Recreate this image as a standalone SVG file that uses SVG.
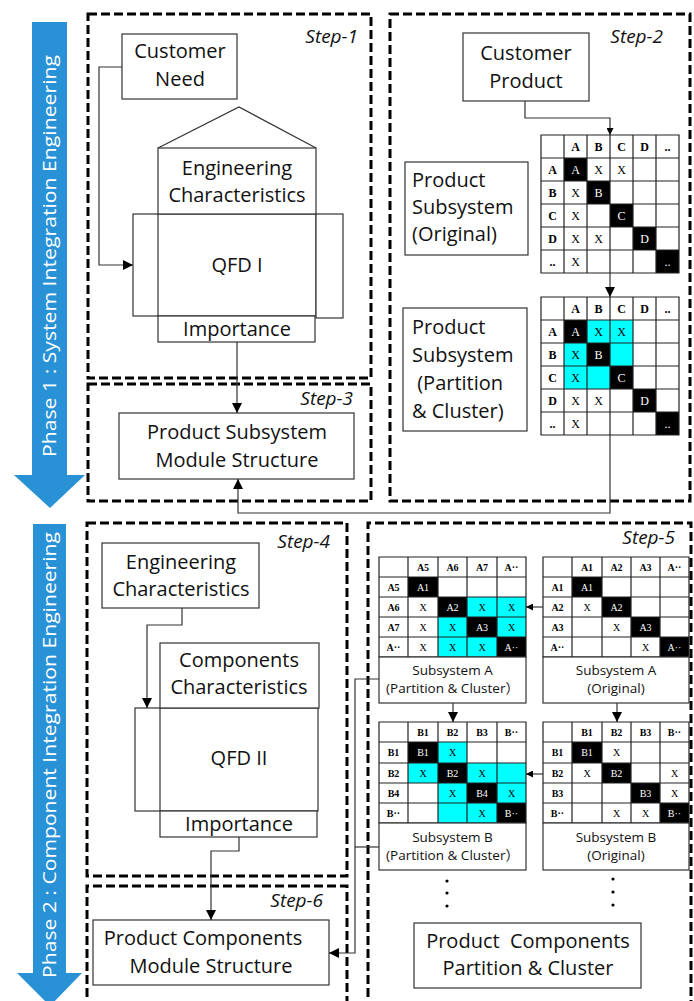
<svg xmlns="http://www.w3.org/2000/svg" width="694" height="1001" viewBox="0 0 694 1001">
<defs>
<marker id="ah" viewBox="0 0 10 10" refX="10" refY="5" markerWidth="10" markerHeight="10" markerUnits="userSpaceOnUse" orient="auto"><path d="M0,0 L10,5 L0,10 Z" fill="#000"/></marker>
<marker id="ahs" viewBox="0 0 10 10" refX="10" refY="5" markerWidth="7" markerHeight="7" markerUnits="userSpaceOnUse" orient="auto"><path d="M0,0 L10,5 L0,10 Z" fill="#000"/></marker>
<style>
.dash{fill:none;stroke:#000;stroke-width:3;stroke-dasharray:9 4}
.box{fill:#fff;stroke:#333;stroke-width:1.2}
.ln{fill:none;stroke:#333;stroke-width:1.2}
.t{font-family:"Open Sans","Noto Sans",sans-serif;font-size:20px;fill:#111;text-anchor:middle}
.tl{font-family:"Open Sans","Noto Sans",sans-serif;font-size:20px;fill:#111}
.st{font-family:"Open Sans","Noto Sans",sans-serif;font-size:19px;font-style:italic;fill:#111;text-anchor:end}
.ph{font-family:"Open Sans","Noto Sans",sans-serif;font-size:19px;fill:#fff;text-anchor:middle}
.sm{font-family:"Open Sans","Noto Sans","Noto Sans CJK SC",sans-serif;font-size:13.5px;fill:#111;text-anchor:middle}
.mh{font-family:"Liberation Serif",serif;font-size:12px;font-weight:bold;fill:#000;text-anchor:middle}
.mx{font-family:"Liberation Serif",serif;font-size:12px;fill:#000;text-anchor:middle}
.mw{font-family:"Liberation Serif",serif;font-size:12px;fill:#fff;text-anchor:middle}
.nh{font-family:"Liberation Serif",serif;font-size:10px;font-weight:bold;fill:#000;text-anchor:middle}
.nx{font-family:"Liberation Serif",serif;font-size:10px;fill:#000;text-anchor:middle}
.nw{font-family:"Liberation Serif",serif;font-size:10px;fill:#fff;text-anchor:middle}
.blk{fill:#000}
.cy{fill:#00FFFF}
.grid{fill:none;stroke:#222;stroke-width:1.2}
.blue{fill:#2991D6}
.con{fill:none;stroke:#333;stroke-width:1.2}
.dot{fill:#000}
</style>
</defs>
<rect width="694" height="1001" fill="#fff"/>

<g id="phase1">
<rect class="blue" x="32" y="22" width="35" height="454"/>
<polygon class="blue" points="14,475 85,475 50,508"/>
<text class="ph" transform="translate(56,256) rotate(-90)" textLength="402" lengthAdjust="spacingAndGlyphs">Phase 1 : System Integration  Engineering</text>
</g>
<g id="phase2">
<rect class="blue" x="33" y="524" width="33" height="450"/>
<polygon class="blue" points="17,973 82,973 50,1006"/>
<text class="ph" transform="translate(56,755) rotate(-90)" textLength="446" lengthAdjust="spacingAndGlyphs">Phase 2 : Component  Integration  Engineering</text>
</g>

<g id="step1">
<rect class="dash" x="88" y="14" width="283" height="364"/>
<text class="st" x="358" y="43">Step-1</text>
</g>
<g id="step3">
<rect class="dash" x="88" y="384" width="283" height="117"/>
<text class="st" x="353" y="405">Step-3</text>
</g>
<g id="step2">
<rect class="dash" x="390" y="14" width="300" height="487"/>
<text class="st" x="663" y="43">Step-2</text>
</g>
<g id="step4">
<rect class="dash" x="87" y="523" width="260" height="353"/>
<text class="st" x="330" y="548">Step-4</text>
</g>
<g id="step6">
<path class="dash" d="M87,1010 V886 H347 V1010"/>
<text class="st" x="323" y="907">Step-6</text>
</g>
<g id="step5">
<path class="dash" d="M368,1010 V523 H691 V1010"/>
<text class="st" x="675" y="544">Step-5</text>
</g>

<g id="customer-need">
<rect class="box" x="122" y="34" width="115" height="65"/>
<text class="t" x="180" y="58">Customer</text>
<text class="t" x="180" y="86">Need</text>
</g>

<g id="qfd1">
<path class="ln" d="M158,148 L239,107 L316,148"/>
<rect class="box" x="133" y="214" width="183" height="102"/>
<rect class="box" x="316" y="214" width="27" height="104"/>
<rect class="box" x="158" y="148" width="158" height="66"/>
<rect class="box" x="158" y="316" width="157" height="26"/>
<path class="ln" d="M158,214 V316"/>
<text class="t" x="237" y="175">Engineering</text>
<text class="t" x="237" y="202">Characteristics</text>
<text class="t" x="237" y="272">QFD I</text>
<text class="t" x="237" y="336">Importance</text>
</g>

<g id="product-subsystem-module">
<rect class="box" x="119" y="413" width="235" height="66"/>
<text class="t" x="237" y="439">Product Subsystem</text>
<text class="t" x="237" y="467">Module Structure</text>
</g>

<g id="customer-product">
<rect class="box" x="463" y="33" width="126" height="68"/>
<text class="t" x="526" y="60">Customer</text>
<text class="t" x="526" y="88">Product</text>
</g>

<g id="ps-original">
<rect class="box" x="405" y="162" width="123" height="93"/>
<text class="tl" x="412" y="187">Product</text>
<text class="tl" x="412" y="214">Subsystem</text>
<text class="tl" x="412" y="241">(Original)</text>
</g>

<g id="ps-partition">
<rect class="box" x="403" y="308" width="124" height="123"/>
<text class="tl" x="412" y="334">Product</text>
<text class="tl" x="412" y="362">Subsystem</text>
<text class="tl" x="412" y="390" style="white-space:pre"> (Partition</text>
<text class="tl" x="412" y="418">&amp; Cluster)</text>
</g>

<g id="matrix-original">
<rect x="541" y="135" width="138" height="138" fill="#fff"/>
<rect class="blk" x="564" y="158" width="23" height="23"/>
<rect class="blk" x="587" y="181" width="23" height="23"/>
<rect class="blk" x="610" y="204" width="23" height="23"/>
<rect class="blk" x="633" y="227" width="23" height="23"/>
<rect class="blk" x="656" y="250" width="23" height="23"/>
<path class="grid" d="M541,135 H679 V273 H541 Z M564,135 V273 M587,135 V273 M610,135 V273 M633,135 V273 M656,135 V273 M541,158 H679 M541,181 H679 M541,204 H679 M541,227 H679 M541,250 H679"/>
<text class="mh" x="575.5" y="150.5">A</text><text class="mh" x="598.5" y="150.5">B</text><text class="mh" x="621.5" y="150.5">C</text><text class="mh" x="644.5" y="150.5">D</text><text class="mh" x="667.5" y="150.5">..</text>
<text class="mh" x="552.5" y="173.5">A</text><text class="mh" x="552.5" y="196.5">B</text><text class="mh" x="552.5" y="219.5">C</text><text class="mh" x="552.5" y="242.5">D</text><text class="mh" x="552.5" y="265.5">..</text>
<text class="mw" x="575.5" y="173.5">A</text><text class="mx" x="598.5" y="173.5">X</text><text class="mx" x="621.5" y="173.5">X</text>
<text class="mx" x="575.5" y="196.5">X</text><text class="mw" x="598.5" y="196.5">B</text>
<text class="mx" x="575.5" y="219.5">X</text><text class="mw" x="621.5" y="219.5">C</text>
<text class="mx" x="575.5" y="242.5">X</text><text class="mx" x="598.5" y="242.5">X</text><text class="mw" x="644.5" y="242.5">D</text>
<text class="mx" x="575.5" y="265.5">X</text><text class="mw" x="667.5" y="265.5">..</text>
</g>

<g id="matrix-partition">
<rect x="541" y="297" width="138" height="138" fill="#fff"/>
<rect class="cy" x="587" y="320" width="46" height="23"/>
<rect class="cy" x="564" y="343" width="23" height="46"/>
<rect class="cy" x="610" y="343" width="23" height="23"/>
<rect class="cy" x="587" y="366" width="23" height="23"/>
<rect class="blk" x="564" y="320" width="23" height="23"/>
<rect class="blk" x="587" y="343" width="23" height="23"/>
<rect class="blk" x="610" y="366" width="23" height="23"/>
<rect class="blk" x="633" y="389" width="23" height="23"/>
<rect class="blk" x="656" y="412" width="23" height="23"/>
<path class="grid" d="M541,297 H679 V435 H541 Z M564,297 V435 M587,297 V435 M610,297 V435 M633,297 V435 M656,297 V435 M541,320 H679 M541,343 H679 M541,366 H679 M541,389 H679 M541,412 H679"/>
<text class="mh" x="575.5" y="312.5">A</text><text class="mh" x="598.5" y="312.5">B</text><text class="mh" x="621.5" y="312.5">C</text><text class="mh" x="644.5" y="312.5">D</text><text class="mh" x="667.5" y="312.5">..</text>
<text class="mh" x="552.5" y="335.5">A</text><text class="mh" x="552.5" y="358.5">B</text><text class="mh" x="552.5" y="381.5">C</text><text class="mh" x="552.5" y="404.5">D</text><text class="mh" x="552.5" y="427.5">..</text>
<text class="mw" x="575.5" y="335.5">A</text><text class="mx" x="598.5" y="335.5">X</text><text class="mx" x="621.5" y="335.5">X</text>
<text class="mx" x="575.5" y="358.5">X</text><text class="mw" x="598.5" y="358.5">B</text>
<text class="mx" x="575.5" y="381.5">X</text><text class="mw" x="621.5" y="381.5">C</text>
<text class="mx" x="575.5" y="404.5">X</text><text class="mx" x="598.5" y="404.5">X</text><text class="mw" x="644.5" y="404.5">D</text>
<text class="mx" x="575.5" y="427.5">X</text><text class="mw" x="667.5" y="427.5">..</text>
</g>

<g id="eng-char-2">
<rect class="box" x="102" y="543" width="157" height="65"/>
<text class="t" x="181" y="569">Engineering</text>
<text class="t" x="181" y="596">Characteristics</text>
</g>

<g id="qfd2">
<rect class="box" x="135" y="708" width="183" height="103"/>
<rect class="box" x="160" y="643" width="159" height="65"/>
<rect class="box" x="160" y="811" width="157" height="26"/>
<path class="ln" d="M160,708 V811"/>
<text class="t" x="239" y="667">Components</text>
<text class="t" x="239" y="694">Characteristics</text>
<text class="t" x="239" y="765">QFD II</text>
<text class="t" x="239" y="831">Importance</text>
</g>

<g id="product-components-module">
<rect class="box" x="93" y="920" width="236" height="65"/>
<text class="t" x="203" y="945">Product Components</text>
<text class="t" x="211" y="973">Module Structure</text>
</g>

<g id="subsystem-a-partition">
<rect x="379" y="557" width="147" height="100" fill="#fff"/>
<rect class="cy" x="467" y="597" width="59" height="20"/>
<rect class="cy" x="438" y="617" width="29" height="40"/>
<rect class="cy" x="497" y="617" width="29" height="20"/>
<rect class="cy" x="467" y="637" width="30" height="20"/>
<rect class="blk" x="408" y="577" width="30" height="20"/>
<rect class="blk" x="438" y="597" width="29" height="20"/>
<rect class="blk" x="467" y="617" width="30" height="20"/>
<rect class="blk" x="497" y="637" width="29" height="20"/>
<path class="grid" d="M379,557 H526 V657 H379 Z M408,557 V657 M438,557 V657 M467,557 V657 M497,557 V657 M379,577 H526 M379,597 H526 M379,617 H526 M379,637 H526"/>
<rect class="box" x="379" y="657" width="147" height="46"/>
<text class="nh" x="423" y="570.5">A5</text><text class="nh" x="452.5" y="570.5">A6</text><text class="nh" x="482" y="570.5">A7</text><text class="nh" x="511.5" y="570.5">A··</text>
<text class="nh" x="393.5" y="590.5">A5</text><text class="nh" x="393.5" y="610.5">A6</text><text class="nh" x="393.5" y="630.5">A7</text><text class="nh" x="393.5" y="650.5">A··</text>
<text class="nw" x="423" y="590.5">A1</text>
<text class="nx" x="423" y="610.5">X</text><text class="nw" x="452.5" y="610.5">A2</text><text class="nx" x="482" y="610.5">X</text><text class="nx" x="511.5" y="610.5">X</text>
<text class="nx" x="423" y="630.5">X</text><text class="nx" x="452.5" y="630.5">X</text><text class="nw" x="482" y="630.5">A3</text><text class="nx" x="511.5" y="630.5">X</text>
<text class="nx" x="423" y="650.5">X</text><text class="nx" x="452.5" y="650.5">X</text><text class="nx" x="482" y="650.5">X</text><text class="nw" x="511.5" y="650.5">A··</text>
<text class="sm" x="452.5" y="675">Subsystem A</text>
<text class="sm" x="452.5" y="693">(Partition &amp; Cluster）</text>
</g>

<g id="subsystem-a-original">
<rect x="543" y="557" width="146" height="100" fill="#fff"/>
<rect class="blk" x="572" y="577" width="30" height="20"/>
<rect class="blk" x="602" y="597" width="29" height="20"/>
<rect class="blk" x="631" y="617" width="29" height="20"/>
<rect class="blk" x="660" y="637" width="29" height="20"/>
<path class="grid" d="M543,557 H689 V657 H543 Z M572,557 V657 M602,557 V657 M631,557 V657 M660,557 V657 M543,577 H689 M543,597 H689 M543,617 H689 M543,637 H689"/>
<rect class="box" x="543" y="657" width="146" height="46"/>
<text class="nh" x="587" y="570.5">A1</text><text class="nh" x="616.5" y="570.5">A2</text><text class="nh" x="645.5" y="570.5">A3</text><text class="nh" x="674.5" y="570.5">A··</text>
<text class="nh" x="557.5" y="590.5">A1</text><text class="nh" x="557.5" y="610.5">A2</text><text class="nh" x="557.5" y="630.5">A3</text><text class="nh" x="557.5" y="650.5">A··</text>
<text class="nw" x="587" y="590.5">A1</text>
<text class="nx" x="587" y="610.5">X</text><text class="nw" x="616.5" y="610.5">A2</text>
<text class="nx" x="616.5" y="630.5">X</text><text class="nw" x="645.5" y="630.5">A3</text>
<text class="nx" x="645.5" y="650.5">X</text><text class="nw" x="674.5" y="650.5">A··</text>
<text class="sm" x="616" y="675">Subsystem A</text>
<text class="sm" x="616" y="693">(Original)</text>
</g>

<g id="subsystem-b-partition">
<rect x="379" y="722" width="147" height="101" fill="#fff"/>
<rect class="cy" x="438" y="742" width="29" height="21"/>
<rect class="cy" x="408" y="763" width="30" height="20"/>
<rect class="cy" x="467" y="763" width="59" height="20"/>
<rect class="cy" x="438" y="783" width="29" height="40"/>
<rect class="cy" x="497" y="783" width="29" height="20"/>
<rect class="cy" x="467" y="803" width="30" height="20"/>
<rect class="blk" x="408" y="742" width="30" height="21"/>
<rect class="blk" x="438" y="763" width="29" height="20"/>
<rect class="blk" x="467" y="783" width="30" height="20"/>
<rect class="blk" x="497" y="803" width="29" height="20"/>
<path class="grid" d="M379,722 H526 V823 H379 Z M408,722 V823 M438,722 V823 M467,722 V823 M497,722 V823 M379,742 H526 M379,763 H526 M379,783 H526 M379,803 H526"/>
<rect class="box" x="379" y="823" width="147" height="47"/>
<text class="nh" x="423" y="735.5">B1</text><text class="nh" x="452.5" y="735.5">B2</text><text class="nh" x="482" y="735.5">B3</text><text class="nh" x="511.5" y="735.5">B··</text>
<text class="nh" x="393.5" y="756">B1</text><text class="nh" x="393.5" y="776.5">B2</text><text class="nh" x="393.5" y="796.5">B4</text><text class="nh" x="393.5" y="816.5">B··</text>
<text class="nw" x="423" y="756">B1</text><text class="nx" x="452.5" y="756">X</text>
<text class="nx" x="423" y="776.5">X</text><text class="nw" x="452.5" y="776.5">B2</text><text class="nx" x="482" y="776.5">X</text>
<text class="nx" x="452.5" y="796.5">X</text><text class="nw" x="482" y="796.5">B4</text><text class="nx" x="511.5" y="796.5">X</text>
<text class="nx" x="482" y="816.5">X</text><text class="nw" x="511.5" y="816.5">B··</text>
<text class="sm" x="452.5" y="842">Subsystem B</text>
<text class="sm" x="452.5" y="860">(Partition &amp; Cluster）</text>
</g>

<g id="subsystem-b-original">
<rect x="543" y="722" width="146" height="101" fill="#fff"/>
<rect class="blk" x="572" y="742" width="30" height="21"/>
<rect class="blk" x="602" y="763" width="29" height="20"/>
<rect class="blk" x="631" y="783" width="29" height="20"/>
<rect class="blk" x="660" y="803" width="29" height="20"/>
<path class="grid" d="M543,722 H689 V823 H543 Z M572,722 V823 M602,722 V823 M631,722 V823 M660,722 V823 M543,742 H689 M543,763 H689 M543,783 H689 M543,803 H689"/>
<rect class="box" x="543" y="823" width="146" height="47"/>
<text class="nh" x="587" y="735.5">B1</text><text class="nh" x="616.5" y="735.5">B2</text><text class="nh" x="645.5" y="735.5">B3</text><text class="nh" x="674.5" y="735.5">B··</text>
<text class="nh" x="557.5" y="756">B1</text><text class="nh" x="557.5" y="776.5">B2</text><text class="nh" x="557.5" y="796.5">B3</text><text class="nh" x="557.5" y="816.5">B··</text>
<text class="nw" x="587" y="756">B1</text><text class="nx" x="616.5" y="756">X</text>
<text class="nx" x="587" y="776.5">X</text><text class="nw" x="616.5" y="776.5">B2</text><text class="nx" x="674.5" y="776.5">X</text>
<text class="nw" x="645.5" y="796.5">B3</text><text class="nx" x="674.5" y="796.5">X</text>
<text class="nx" x="616.5" y="816.5">X</text><text class="nx" x="645.5" y="816.5">X</text><text class="nw" x="674.5" y="816.5">B··</text>
<text class="sm" x="616" y="842">Subsystem B</text>
<text class="sm" x="616" y="860">(Original)</text>
</g>

<g id="ellipsis-left">
<circle class="dot" cx="447" cy="881" r="1.6"/>
<circle class="dot" cx="447" cy="893" r="1.6"/>
<circle class="dot" cx="447" cy="906" r="1.6"/>
</g>
<g id="ellipsis-right">
<circle class="dot" cx="613" cy="879" r="1.6"/>
<circle class="dot" cx="613" cy="892" r="1.6"/>
<circle class="dot" cx="613" cy="905" r="1.6"/>
</g>

<g id="product-components-partition">
<rect class="box" x="414" y="923" width="227" height="65"/>
<text class="t" x="528" y="948" style="white-space:pre">Product  Components</text>
<text class="t" x="528" y="975">Partition &amp; Cluster</text>
</g>

<g id="connectors">
<path class="con" d="M122,67 H99 V265 H133" marker-end="url(#ah)"/>
<path class="con" d="M237,342 V413" marker-end="url(#ah)"/>
<path class="con" d="M525,101 V118 H610 V135" marker-end="url(#ahs)"/>
<path class="con" d="M610,273 V297" marker-end="url(#ah)"/>
<path class="con" d="M610,435 V513 H238 V479" marker-end="url(#ah)"/>
<path class="con" d="M182,608 V625 H147 V708" marker-end="url(#ah)"/>
<path class="con" d="M239,837 V851 H211 V920" marker-end="url(#ah)"/>
<path class="con" d="M379,679 H355 V953 H329" marker-end="url(#ah)"/>
<path class="con" d="M379,847 H355"/>
<path class="con" d="M543,607 H526" marker-end="url(#ahs)"/>
<path class="con" d="M543,774 H526" marker-end="url(#ahs)"/>
<path class="con" d="M453,703 V722" marker-end="url(#ah)"/>
<path class="con" d="M617,703 V722" marker-end="url(#ah)"/>
</g>
</svg>
